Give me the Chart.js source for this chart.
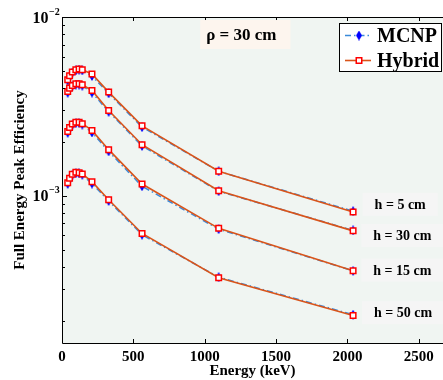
<!DOCTYPE html>
<html>
<head>
<meta charset="utf-8">
<script src="https://cdn.jsdelivr.net/npm/chart.js@4.4.1/dist/chart.umd.min.js"></script>
<style>
    html, body { margin: 0; padding: 0; background: #fff; }
    #wrap { position: relative; width: 443px; height: 380px; }
</style>
</head>
<body>
<div id="wrap"><canvas id="eff"></canvas></div>
<script>
(function () {
    'use strict';

    // Photon energies [keV]
    var ENERGIES = [40, 53, 72, 97, 120, 142, 210, 327, 561, 1098, 2040];

    // Hybrid model efficiencies, one list per source height
    var HYBRID_H5 = [4.46e-3, 4.69e-3, 4.93e-3, 5.07e-3, 5.12e-3, 5.07e-3, 4.80e-3, 3.80e-3, 2.46e-3, 1.371e-3, 8.11e-4];
    var HYBRID_H30 = [3.83e-3, 4.00e-3, 4.14e-3, 4.23e-3, 4.23e-3, 4.18e-3, 3.88e-3, 3.00e-3, 1.93e-3, 1.067e-3, 6.36e-4];
    var HYBRID_H15 = [2.29e-3, 2.41e-3, 2.52e-3, 2.58e-3, 2.58e-3, 2.53e-3, 2.32e-3, 1.81e-3, 1.163e-3, 6.57e-4, 3.81e-4];
    var HYBRID_H50 = [1.183e-3, 1.252e-3, 1.318e-3, 1.352e-3, 1.346e-3, 1.323e-3, 1.199e-3, 9.50e-4, 6.15e-4, 3.48e-4, 2.14e-4];

    // MCNP simulation efficiencies
    var MCNP_H5 = [4.40e-3, 4.62e-3, 4.87e-3, 5.02e-3, 5.08e-3, 5.02e-3, 4.68e-3, 3.74e-3, 2.42e-3, 1.37e-3, 8.20e-4];
    var MCNP_H30 = [3.77e-3, 3.95e-3, 4.09e-3, 4.19e-3, 4.19e-3, 4.13e-3, 3.78e-3, 2.95e-3, 1.90e-3, 1.06e-3, 6.40e-4];
    var MCNP_H15 = [2.25e-3, 2.37e-3, 2.48e-3, 2.55e-3, 2.55e-3, 2.50e-3, 2.26e-3, 1.77e-3, 1.13e-3, 6.50e-4, 3.80e-4];
    var MCNP_H50 = [1.165e-3, 1.235e-3, 1.30e-3, 1.337e-3, 1.332e-3, 1.31e-3, 1.17e-3, 9.35e-4, 6.05e-4, 3.50e-4, 2.16e-4];

    var X_TICKS = [0, 500, 1000, 1500, 2000, 2500];
    var Y_TICKS = [2e-4, 3e-4, 4e-4, 5e-4, 6e-4, 7e-4, 8e-4, 9e-4,
                   1e-3, 2e-3, 3e-3, 4e-3, 5e-3, 6e-3, 7e-3, 8e-3, 9e-3, 1e-2];
    var Y_MAJOR = [1e-3, 1e-2];
    var Y_MAJOR_EXP = ['\u22123', '\u22122'];

    // Curve labels at the right, anchored in data units [keV, efficiency]
    var TAG_TEXT = ['h = 5 cm', 'h = 30 cm', 'h = 15 cm', 'h = 50 cm'];
    var TAG_X = [2370, 2385, 2385, 2390];
    var TAG_Y = [8.94e-4, 5.99e-4, 3.84e-4, 2.22e-4];

    var SERIF = "'Liberation Serif', 'Times New Roman', serif";
    var PLOT_BG = 'rgb(240,245,242)';
    var MCNP_LINE = '#3b8ad9';
    var MCNP_MARK = '#0000ff';
    var HYB_LINE = '#d9541a';
    var HYB_MARK = '#ff0000';

    function pts(ys) {
        return ENERGIES.map(function (e, i) { return { x: e, y: ys[i] }; });
    }

    // Tall diamond, like the Matlab 'd' marker
    function diamondMarker(color, w, h) {
        var c = document.createElement('canvas');
        c.width = w;
        c.height = h;
        var g = c.getContext('2d');
        g.fillStyle = color;
        g.beginPath();
        g.moveTo(w / 2, 0);
        g.lineTo(w, h / 2);
        g.lineTo(w / 2, h);
        g.lineTo(0, h / 2);
        g.closePath();
        g.fill();
        return c;
    }

    var DIAMOND = diamondMarker(MCNP_MARK, 6, 10);

    function mcnpSet(ys) {
        return {
            label: 'MCNP',
            data: pts(ys),
            borderColor: MCNP_LINE,
            borderWidth: 1.5,
            borderDash: [6, 3, 1.5, 3],
            pointStyle: DIAMOND,
            pointRadius: 4,
            order: 2,
        };
    }

    function hybridSet(ys) {
        return {
            label: 'Hybrid',
            data: pts(ys),
            borderColor: HYB_LINE,
            borderWidth: 1.6,
            pointStyle: 'rect',
            pointRadius: 3.9,
            pointBorderColor: HYB_MARK,
            pointBackgroundColor: '#ffffff',
            pointBorderWidth: 1.5,
            order: 1,
        };
    }

    function drawTag(ctx, text, cx, cy, font, bg, padX, h, dx) {
        ctx.font = font;
        var w = ctx.measureText(text).width + 2 * padX;
        ctx.fillStyle = bg;
        ctx.fillRect(cx - w / 2, cy - h / 2, w, h);
        ctx.fillStyle = '#000';
        ctx.textAlign = 'center';
        ctx.textBaseline = 'middle';
        ctx.fillText(text, cx + (dx || 0), cy + 1);
    }

    var framePlugin = {
        id: 'frame',
        beforeDraw: function (chart) {
            var a = chart.chartArea, ctx = chart.ctx;
            ctx.save();
            ctx.fillStyle = PLOT_BG;
            ctx.fillRect(a.left, a.top, a.right - a.left, a.bottom - a.top);
            ctx.restore();
        },
        afterDraw: function (chart) {
            var a = chart.chartArea, ctx = chart.ctx;
            var xs = chart.scales.x, ys = chart.scales.y;
            ctx.save();

            // axes box (left, bottom, top)
            ctx.strokeStyle = '#000';
            ctx.lineWidth = 1;
            ctx.beginPath();
            ctx.moveTo(a.left + 0.5, a.top);
            ctx.lineTo(a.left + 0.5, a.bottom + 0.5);
            ctx.lineTo(a.right, a.bottom + 0.5);
            ctx.moveTo(a.left, a.top + 0.5);
            ctx.lineTo(a.right, a.top + 0.5);
            // inward ticks
            X_TICKS.forEach(function (v) {
                var px = Math.round(xs.getPixelForValue(v)) + 0.5;
                ctx.moveTo(px, a.bottom);
                ctx.lineTo(px, a.bottom - 4);
                ctx.moveTo(px, a.top);
                ctx.lineTo(px, a.top + 4);
            });
            Y_TICKS.forEach(function (v) {
                var py = Math.round(ys.getPixelForValue(v)) + 0.5;
                var len = Y_MAJOR.indexOf(v) >= 0 ? 5 : 3;
                ctx.moveTo(a.left, py);
                ctx.lineTo(a.left + len, py);
            });
            ctx.stroke();

            // 10^n tick labels
            ctx.fillStyle = '#000';
            Y_MAJOR.forEach(function (v, i) {
                var py = ys.getPixelForValue(v);
                ctx.font = 'bold 16px ' + SERIF;
                ctx.textAlign = 'right';
                ctx.textBaseline = 'alphabetic';
                ctx.fillText('10', 48.5, py + 5.5);
                ctx.font = 'bold 10px ' + SERIF;
                ctx.textAlign = 'left';
                ctx.fillText(Y_MAJOR_EXP[i], 49, py - 2.5);
            });

            // curve labels
            TAG_TEXT.forEach(function (t, i) {
                drawTag(ctx, t, xs.getPixelForValue(TAG_X[i]), ys.getPixelForValue(TAG_Y[i]),
                    'bold 14px ' + SERIF, '#f5f5f5', 12, 23);
            });

            // rho box
            drawTag(ctx, '\u03c1 = 30 cm', xs.getPixelForValue(1285), ys.getPixelForValue(7.98e-3),
                'bold 17px ' + SERIF, '#fdf5ee', 10, 29, -4);

            // legend
            var lx = a.right - 104, ly = a.top + 6, lw = 103, lh = 49;
            ctx.fillStyle = '#fff';
            ctx.fillRect(lx, ly, lw, lh);
            ctx.strokeStyle = '#000';
            ctx.lineWidth = 1;
            ctx.strokeRect(lx + 0.5, ly + 0.5, lw - 1, lh - 1);
            var entries = [chart.data.datasets[0], chart.data.datasets[4]];
            entries.forEach(function (ds, i) {
                var y = ly + 12.5 + i * 25;
                ctx.save();
                ctx.strokeStyle = ds.borderColor;
                ctx.lineWidth = ds.borderWidth;
                ctx.setLineDash(ds.borderDash || []);
                ctx.beginPath();
                ctx.moveTo(lx + 6, y);
                ctx.lineTo(lx + 32, y);
                ctx.stroke();
                ctx.restore();
                var mx = lx + 20;
                if (ds.pointStyle === 'rect') {
                    ctx.fillStyle = ds.pointBackgroundColor;
                    ctx.strokeStyle = ds.pointBorderColor;
                    ctx.lineWidth = ds.pointBorderWidth;
                    ctx.fillRect(mx - 2.75, y - 2.75, 5.5, 5.5);
                    ctx.strokeRect(mx - 2.75, y - 2.75, 5.5, 5.5);
                } else {
                    ctx.drawImage(ds.pointStyle, mx - 3, y - 5);
                }
                ctx.fillStyle = '#000';
                ctx.font = 'bold 20px ' + SERIF;
                ctx.textAlign = 'left';
                ctx.textBaseline = 'middle';
                ctx.fillText(ds.label, lx + 38, y + 1);
            });

            ctx.restore();
        },
    };

    new Chart(document.getElementById('eff'), {
        type: 'line',
        data: {
            datasets: [
                mcnpSet(MCNP_H5), mcnpSet(MCNP_H30), mcnpSet(MCNP_H15), mcnpSet(MCNP_H50),
                hybridSet(HYBRID_H5), hybridSet(HYBRID_H30), hybridSet(HYBRID_H15), hybridSet(HYBRID_H50),
            ],
        },
        options: {
            responsive: true,
            maintainAspectRatio: false,
            animation: false,
            devicePixelRatio: 1,
            layout: { autoPadding: false, padding: { top: 17, right: 0, bottom: 0, left: 0 } },
            plugins: {
                legend: { display: false },
                tooltip: { enabled: false },
            },
            scales: {
                x: {
                    type: 'linear',
                    min: 0,
                    max: 2670,
                    afterBuildTicks: function (s) {
                        s.ticks = X_TICKS.map(function (v) { return { value: v }; });
                    },
                    afterFit: function (s) {
                        s.height = 37;
                        s.paddingLeft = 0;
                        s.paddingRight = 0;
                    },
                    grid: { display: false, drawTicks: false },
                    border: { display: false },
                    ticks: {
                        padding: 5,
                        color: '#000',
                        font: { family: SERIF, size: 15, weight: 'bold' },
                        maxRotation: 0,
                        callback: function (v) { return String(v); },
                    },
                    title: {
                        display: true,
                        text: 'Energy (keV)',
                        color: '#000',
                        font: { family: SERIF, size: 15, weight: 'bold' },
                        padding: { top: 0, bottom: 0 },
                    },
                },
                y: {
                    type: 'logarithmic',
                    min: 1.5e-4,
                    max: 1e-2,
                    afterBuildTicks: function (s) {
                        s.ticks = Y_TICKS.map(function (v) { return { value: v }; });
                    },
                    afterFit: function (s) {
                        s.width = 62;
                        s.paddingTop = 0;
                        s.paddingBottom = 0;
                    },
                    grid: { display: false, drawTicks: false },
                    border: { display: false },
                    ticks: { display: false },
                    title: {
                        display: true,
                        text: 'Full Energy Peak Efficiency',
                        color: '#000',
                        font: { family: SERIF, size: 15, weight: 'bold' },
                        padding: { top: 11, bottom: 0 },
                    },
                },
            },
        },
        plugins: [framePlugin],
    });
})();
</script>
</body>
</html>
